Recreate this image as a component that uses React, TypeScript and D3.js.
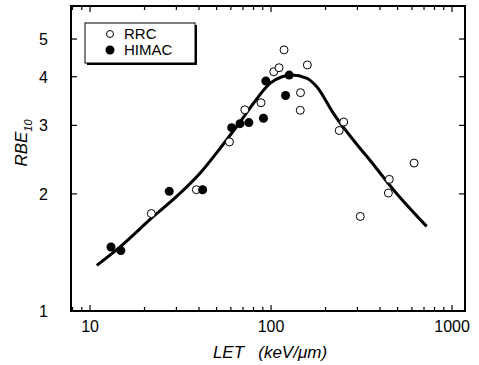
import React, { useEffect, useRef } from 'react';
import * as d3 from 'd3';

// LET (keV/um) vs RBE10
const rrcLet = [21.8, 38.7, 58.9, 71.6, 88, 103.5, 110.7, 118, 158.7, 145.5, 145, 252, 238, 311, 445, 450, 617];
const rrcRbe = [1.78, 2.05, 2.72, 3.29, 3.43, 4.12, 4.22, 4.69, 4.29, 3.64, 3.28, 3.06, 2.91, 1.75, 2.01, 2.18, 2.4];

const himacLet = [13.06, 14.8, 27.4, 41.9, 60.6, 67.4, 75.4, 90.8, 93.6, 120.3, 126];
const himacRbe = [1.46, 1.43, 2.03, 2.05, 2.96, 3.03, 3.05, 3.13, 3.9, 3.58, 4.04];

const fitLet = [10.9, 14.6, 22.4, 30.1, 40.5, 53, 66, 80, 99, 115, 130, 157, 179, 221, 310, 352, 474, 724];
const fitRbe = [1.31, 1.46, 1.75, 1.97, 2.26, 2.64, 3.02, 3.42, 3.85, 4.0, 4.04, 3.97, 3.77, 3.22, 2.62, 2.44, 2.05, 1.65];

const xTickLabels = [10, 100, 1000];
const yTickLabels = [1, 2, 3, 4, 5];
const legendLabels = ['RRC', 'HIMAC'];

const FONT = '"Liberation Sans", Arial, Helvetica, sans-serif';

const App = () => {
  const ref = useRef<SVGSVGElement | null>(null);

  useEffect(() => {
    if (!ref.current) return;
    const svg = d3.select(ref.current);
    svg.selectAll('*').remove();

    const left = 71, right = 465, top = 6, bottom = 311;

    const x = d3.scaleLog().domain([7.85, 1179]).range([left, right]);
    const y = d3.scaleLog().domain([1, 6.08]).range([bottom, top]);

    // minor + major ticks on x, both edges, pointing in
    const xMinor: number[] = [];
    [1, 10, 100].forEach((dec) => {
      for (let k = 1; k <= 9; k++) {
        const v = dec * k;
        if (v >= 8 && v <= 1179) xMinor.push(v);
      }
    });
    xMinor.push(1000);

    const ticks = svg.append('g').attr('stroke', '#000').attr('stroke-width', 1.2);
    xMinor.forEach((v) => {
      const major = xTickLabels.includes(v);
      const len = major ? 6 : 4;
      ticks.append('line').attr('x1', x(v)).attr('x2', x(v)).attr('y1', bottom).attr('y2', bottom - len);
      ticks.append('line').attr('x1', x(v)).attr('x2', x(v)).attr('y1', top).attr('y2', top + len);
    });
    yTickLabels.forEach((v) => {
      ticks.append('line').attr('x1', left).attr('x2', left + 6).attr('y1', y(v)).attr('y2', y(v));
      ticks.append('line').attr('x1', right).attr('x2', right - 6).attr('y1', y(v)).attr('y2', y(v));
    });

    // frame
    svg.append('rect')
      .attr('x', left).attr('y', top)
      .attr('width', right - left).attr('height', bottom - top)
      .attr('fill', 'none').attr('stroke', '#000').attr('stroke-width', 2);

    // tick labels
    svg.append('g').selectAll('text')
      .data(xTickLabels)
      .enter()
      .append('text')
      .attr('x', (d) => x(d))
      .attr('y', 332)
      .attr('text-anchor', 'middle')
      .attr('font-family', FONT)
      .attr('font-size', 16)
      .text((d) => d);

    svg.append('g').selectAll('text')
      .data(yTickLabels)
      .enter()
      .append('text')
      .attr('x', 48)
      .attr('y', (d) => y(d) + 6)
      .attr('text-anchor', 'end')
      .attr('font-family', FONT)
      .attr('font-size', 16)
      .text((d) => d);

    // axis titles
    const xt = svg.append('text')
      .attr('x', 270).attr('y', 358)
      .attr('text-anchor', 'middle')
      .attr('font-family', FONT)
      .attr('font-size', 17)
      .attr('font-style', 'italic')
      .attr('xml:space', 'preserve');
    xt.append('tspan').text('LET   (keV/\u03bcm)');

    const yt = svg.append('text')
      .attr('transform', 'translate(27,143) rotate(-90)')
      .attr('text-anchor', 'middle')
      .attr('font-family', FONT)
      .attr('font-size', 17)
      .attr('font-style', 'italic');
    yt.append('tspan').text('RBE');
    yt.append('tspan').attr('font-size', 11).attr('dy', 5).text('10');

    // fitted curve
    const line = d3.line<number>()
      .x((d, i) => x(fitLet[i]))
      .y((d) => y(d))
      .curve(d3.curveMonotoneX);
    svg.append('path')
      .attr('d', line(fitRbe))
      .attr('fill', 'none')
      .attr('stroke', '#000')
      .attr('stroke-width', 3);

    // points
    svg.append('g').selectAll('circle')
      .data(rrcRbe)
      .enter()
      .append('circle')
      .attr('cx', (d, i) => x(rrcLet[i]))
      .attr('cy', (d) => y(d))
      .attr('r', 4)
      .attr('fill', '#fff')
      .attr('stroke', '#000')
      .attr('stroke-width', 1);

    svg.append('g').selectAll('circle')
      .data(himacRbe)
      .enter()
      .append('circle')
      .attr('cx', (d, i) => x(himacLet[i]))
      .attr('cy', (d) => y(d))
      .attr('r', 4.5)
      .attr('fill', '#000');

    // legend with drop shadow
    const lg = svg.append('g');
    lg.append('rect').attr('x', 87).attr('y', 25).attr('width', 110).attr('height', 40).attr('fill', '#000');
    lg.append('rect').attr('x', 85).attr('y', 23).attr('width', 110).attr('height', 40)
      .attr('fill', '#fff').attr('stroke', '#000').attr('stroke-width', 1);
    lg.append('circle').attr('cx', 110).attr('cy', 34).attr('r', 3.5)
      .attr('fill', '#fff').attr('stroke', '#000').attr('stroke-width', 1);
    lg.append('circle').attr('cx', 110).attr('cy', 50).attr('r', 4.5).attr('fill', '#000');
    legendLabels.forEach((t, i) => {
      lg.append('text')
        .attr('x', 124).attr('y', 39 + i * 16)
        .attr('font-family', FONT)
        .attr('font-size', 15)
        .text(t);
    });
  }, []);

  return (
    <svg
      ref={ref}
      width={479}
      height={365}
      style={{ position: 'absolute', left: 0, top: 0, background: '#fff' }}
    />
  );
};

export default App;
